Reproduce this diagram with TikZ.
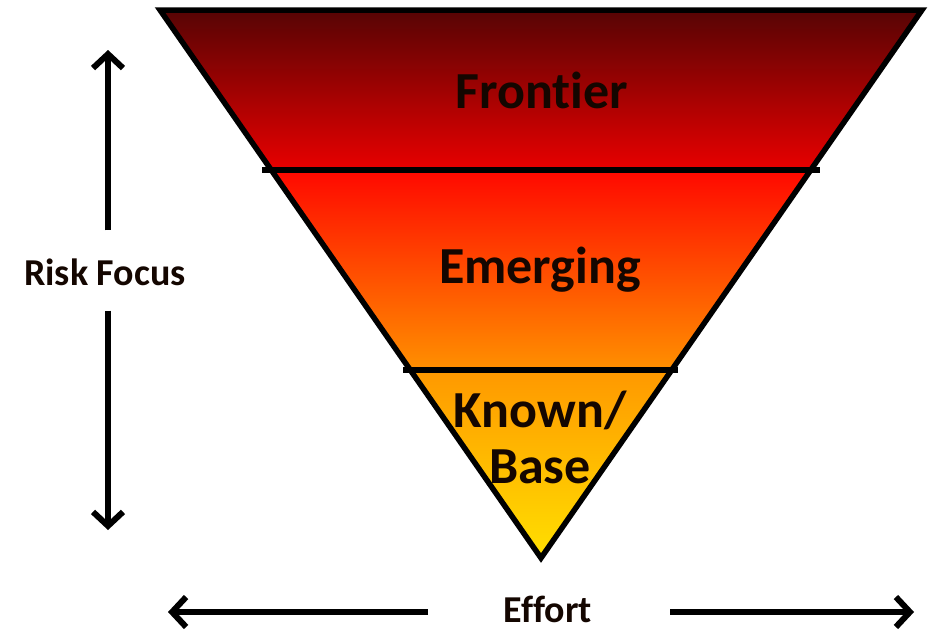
\documentclass[tikz,border=0pt]{standalone}
\usepackage{fontspec}
\setmainfont{Carlito}[Ligatures=NoCommon]
\usetikzlibrary{arrows.meta}
\definecolor{fTop}{HTML}{550404}
\definecolor{fBot}{HTML}{E80000}
\definecolor{eTop}{HTML}{FF0800}
\definecolor{eBot}{HTML}{FF9000}
\definecolor{kTop}{HTML}{FF9800}
\definecolor{kBot}{HTML}{FFE000}
\definecolor{txt}{HTML}{140600}
\tikzset{
  outline/.style={line width=5.5pt, line join=miter},
  band/.style={font=\bfseries\fontsize{52}{56}\selectfont, text=txt, align=center, inner sep=0pt},
  axislabel/.style={font=\bfseries\fontsize{38}{42}\selectfont, text=txt, inner sep=0pt},
  axis/.style={line width=6pt, -{Straight Barb[length=14pt,width=30pt,line width=6pt]}}
}
\begin{document}
\begin{tikzpicture}[x=1pt,y=-1pt]
\useasboundingbox (0,0) rectangle (931,637);
\fill[white] (0,0) rectangle (931,637);
\coordinate (TL) at (160,10);
\coordinate (TR) at (922,10);
\coordinate (A) at (541,558);
\begin{scope}
  \clip (TL) -- (TR) -- (A) -- cycle;
  \shade[top color=fTop, bottom color=fBot] (150,8) rectangle (930,170);
  \shade[top color=eTop, bottom color=eBot] (150,170) rectangle (930,370);
  \shade[top color=kTop, bottom color=kBot] (150,370) rectangle (930,560);
\end{scope}
\draw[outline] (TL) -- (TR) -- (A) -- cycle;
\coordinate (L1a) at (262,170);
\coordinate (L1b) at (820,170);
\coordinate (L2a) at (403,370);
\coordinate (L2b) at (678,370);
\draw[outline] (L1a) -- (L1b);
\draw[outline] (L2a) -- (L2b);
\node[band] (frontier) at (542,90) {Frontier};
\node[band] (emerging) at (540,270) {Emerging};
\node[band] (known) at (540,437) {Known/\\Base};
\node[axislabel] (risk) at (105,272) {Risk Focus};
\coordinate (rtop) at (108,50);
\coordinate (rbot) at (108,530);
\draw[axis] (risk.north -| rtop) ++(0,-28) -- (rtop);
\draw[axis] (risk.south -| rbot) ++(0,25) -- (rbot);
\node[axislabel] (effort) at (548,609) {Effort};
\coordinate (eleft) at (168,612);
\coordinate (eright) at (914,612);
\draw[axis] (428,612) -- (eleft);
\draw[axis] (670,612) -- (eright);
\end{tikzpicture}
\end{document}
